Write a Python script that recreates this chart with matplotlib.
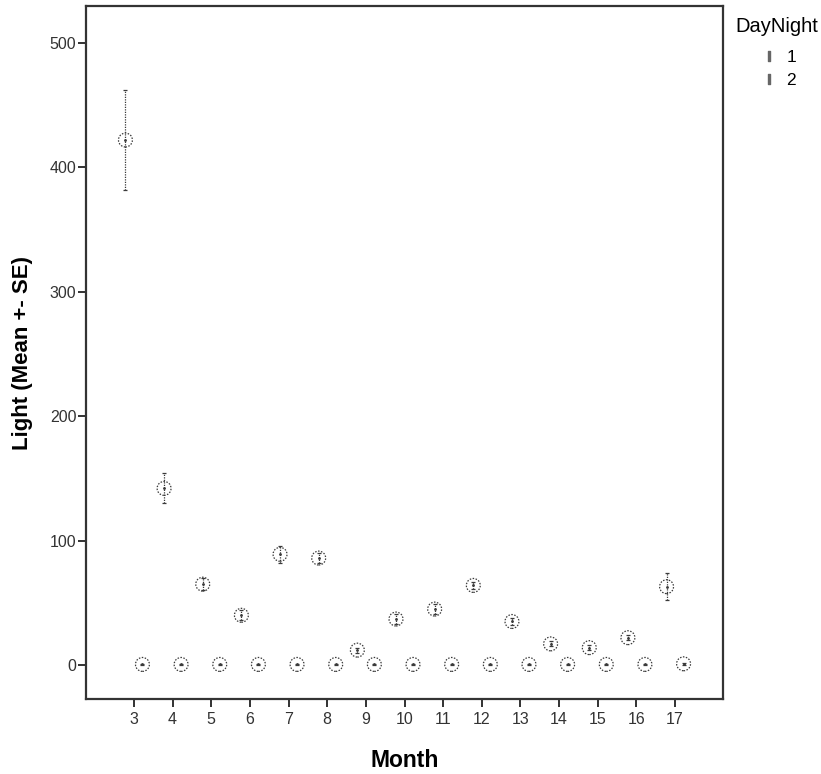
import matplotlib
matplotlib.use("Agg")
import matplotlib.pyplot as plt
import numpy as np
from matplotlib.lines import Line2D

plt.rcParams['font.family'] = ['Liberation Sans', 'DejaVu Sans']

months = [3, 4, 5, 6, 7, 8, 9, 10, 11, 12, 13, 14, 15, 16, 17]
day_mean = [422, 142, 65, 40, 89, 86, 12, 37, 45, 64, 35, 17, 14, 22, 63]
day_se = [40, 12, 5, 4, 7, 4, 2, 4, 4, 3, 3, 2, 2, 2, 11]
night_mean = [0.5, 0.5, 0.5, 0.5, 0.5, 0.5, 0.5, 0.5, 0.5, 0.5, 0.5, 0.5, 0.5, 0.5, 1.0]
night_se = [0.6, 0.6, 0.6, 0.6, 0.6, 0.6, 0.6, 0.6, 0.6, 0.6, 0.6, 0.6, 0.6, 0.6, 0.8]
group_labels = ['1', '2']

ink = '#3a3a3a'
fig = plt.figure(figsize=(8.21, 7.74), dpi=100)
ax = fig.add_axes([86 / 821, 1 - 699 / 774, (723 - 86) / 821, (699 - 6) / 774])

x = np.arange(len(months))
offset = 0.22

def draw_group(xpos, mean, se):
    eb = ax.errorbar(xpos, mean, yerr=se, fmt='none', ecolor=ink,
                     elinewidth=0.9, capsize=1.5, capthick=0.9, zorder=2)
    eb[2][0].set_linestyle((0, (1, 1)))
    ax.scatter(xpos, mean, s=100, facecolors='none', edgecolors=ink,
               linewidths=0.9, linestyle=(0, (1.2, 1.2)), zorder=3)
    ax.scatter(xpos, mean, s=4, color=ink, marker='.', zorder=3)

draw_group(x - offset, day_mean, day_se)
draw_group(x + offset, night_mean, night_se)

ax.set_xlim(-1.24, len(months) - 1 + 1.24)
ax.set_ylim(-27.3, 529.7)
ax.set_xticks(x)
ax.set_xticklabels([str(m) for m in months])
ax.set_yticks([0, 100, 200, 300, 400, 500])
ax.tick_params(axis='both', labelsize=11.5, length=6, width=1.3,
               color='#222222', labelcolor='#333333')
ax.tick_params(axis='x', pad=3)
ax.tick_params(axis='y', pad=1)
for s in ax.spines.values():
    s.set_linewidth(1.6)
    s.set_color('#333333')

ax.set_xlabel('Month', fontsize=16.5, fontweight='bold', labelpad=16)
ax.set_ylabel('Light (Mean +- SE)', fontsize=16, fontweight='bold', labelpad=12)

# legend title drawn separately so the entries can sit a bit lower
fig.text(777 / 821, 1 - 27 / 774, 'DayNight', fontsize=14.5, ha='center', va='center')
handles = [Line2D([], [], marker='$\\mathrm{I}$', linestyle='none', color='#666666', markersize=7.5)
           for _ in group_labels]
fig.legend(handles, group_labels, loc='upper center',
           bbox_to_anchor=(779 / 821, 1 - 50 / 774), frameon=False, fontsize=12.5,
           handlelength=0.8, handletextpad=0.6,
           labelspacing=0.45, borderpad=0, borderaxespad=0)

plt.savefig('out.png', dpi=100)
